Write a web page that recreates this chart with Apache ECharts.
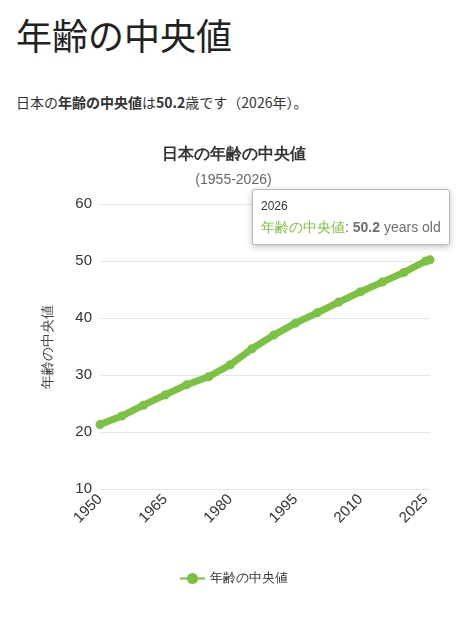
<!DOCTYPE html><html><head><meta charset="utf-8"><script src="https://cdn.jsdelivr.net/npm/echarts@6/dist/echarts.min.js"></script>
<style>body{margin:0;font-family:"Noto Sans CJK JP",sans-serif;background:#fff}
h1{font-family:"Noto Sans CJK JP";font-weight:400;font-size:36px;margin:0;position:absolute;left:16px;top:8px;color:#222}
p{position:absolute;left:16px;top:92px;margin:0;font-size:14px;color:#333}
#c{position:absolute;left:0;top:130px;width:467px;height:510px}</style></head><body>
<h1>年齢の中央値</h1>
<p>日本の<b>年齢の中央値</b>は<b>50.2</b>歳です（2026年）。</p>
<div id="c"></div>
<script>
const years=[1950,1955,1960,1965,1970,1975,1980,1985,1990,1995,2000,2005,2010,2015,2020,2025,2026];
const values=[21.3,22.8,24.7,26.5,28.3,29.7,31.8,34.6,37.0,39.1,40.9,42.8,44.6,46.3,48.0,50.0,50.2];
const ch=echarts.init(document.getElementById('c'));
ch.setOption({
title:{text:'日本の年齢の中央値',subtext:'(1955-2026)',left:'center',top:12,textStyle:{fontSize:16,fontWeight:'bold',color:'#333'},subtextStyle:{fontSize:14,color:'#666'},itemGap:10},
tooltip:{trigger:'item',alwaysShowContent:true,backgroundColor:'#fff',borderColor:'#bbb',borderWidth:1,padding:[6,8],extraCssText:'box-shadow:0 2px 6px rgba(0,0,0,0.25);border-radius:2px',
 formatter:p=>`<div style="font-size:12px;color:#333">${p.data[0]}</div><div style="font-size:14px"><span style="color:#7cc242">年齢の中央値</span>: <b>${p.data[1]}</b> years old</div>`,
 position:(pt,params,dom,rect,size)=>[pt[0]-size.contentSize[0]+20,pt[1]-size.contentSize[1]-15]},
legend:{bottom:50,data:['年齢の中央値'],textStyle:{fontSize:13,color:'#333'}},
grid:{left:100,right:37,top:74,bottom:151},
xAxis:{type:'value',min:1950,max:2026,interval:15,axisLabel:{rotate:45,fontSize:15,color:'#333',showMaxLabel:false,formatter:v=>String(v)},axisLine:{show:false},axisTick:{show:false},splitLine:{show:false}},
yAxis:{type:'value',min:10,max:60,interval:10,name:'年齢の中央値',nameLocation:'middle',nameGap:45,nameTextStyle:{fontSize:14,color:'#444'},axisLabel:{fontSize:15,color:'#333'},splitLine:{lineStyle:{color:'#e6e6e6'}},axisLine:{show:false},axisTick:{show:false}},
series:[{name:'年齢の中央値',type:'line',data:years.map((y,i)=>[y,values[i]]),color:'#7cc242',lineStyle:{width:7},symbol:'circle',symbolSize:9,
 emphasis:{scale:1.8,itemStyle:{borderColor:'rgba(124,194,66,0.35)',borderWidth:6}}}]
});
setTimeout(()=>ch.dispatchAction({type:'showTip',seriesIndex:0,dataIndex:16}),100);
</script></body></html>
